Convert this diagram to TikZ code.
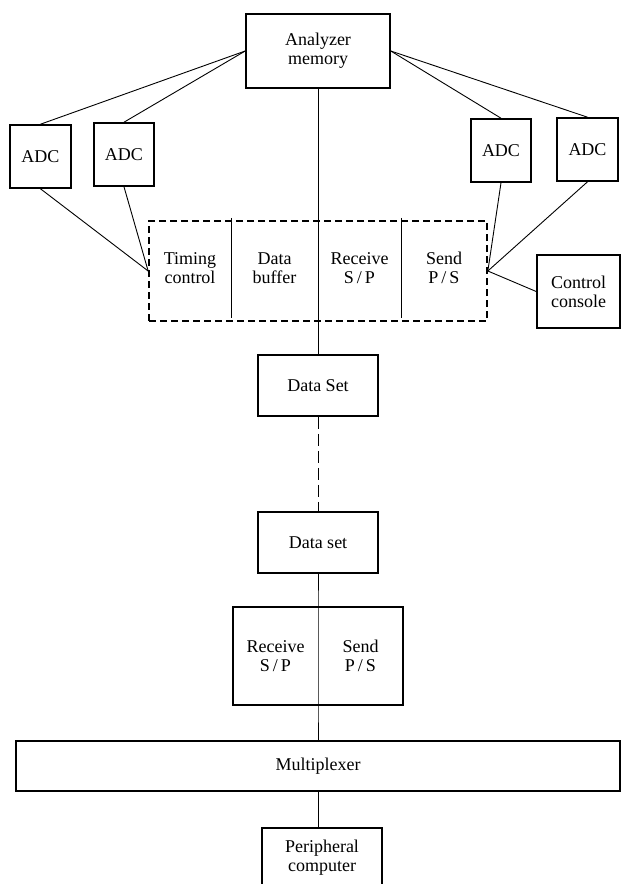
\documentclass[tikz,border=0pt]{standalone}
\usepackage{fontspec}
\setmainfont{Liberation Serif}
\begin{document}
\begin{tikzpicture}[x=1pt,y=-1pt,
    every node/.style={font=\fontsize{18}{19}\selectfont},
    box/.style={draw,line width=1.6pt,align=center,inner sep=0pt},
    cell/.style={align=center,inner sep=0pt,minimum height=100pt},
    wire/.style={line width=0.9pt}]
    \useasboundingbox (0,0) rectangle (621,884);
    \clip (0,0) rectangle (621,884);

    % analyzer side
    \node[box,minimum width=144pt,minimum height=74pt] (mem) at (318,51) {Analyzer\\memory};
    \node[box,minimum width=61pt,minimum height=63pt] (adcA) at (40.5,156.5) {ADC};
    \node[box,minimum width=60pt,minimum height=63pt] (adcB) at (124,154.5) {ADC};
    \node[box,minimum width=60pt,minimum height=63pt] (adcC) at (501,150.5) {ADC};
    \node[box,minimum width=61pt,minimum height=63pt] (adcD) at (587.5,149.5) {ADC};

    \node[draw,line width=1.7pt,dash pattern=on 7pt off 4pt,minimum width=338pt,minimum height=100pt] (iface) at (318,271) {};
    \node[cell,minimum width=82pt] (timing) at (190,268) {Timing\\control};
    \node[cell,minimum width=87pt] (buffer) at (274.5,268) {Data\\buffer};
    \node[cell,minimum width=83pt] (recvA) at (359.5,268) {Receive\\S\,/\,P};
    \node[cell,minimum width=86pt] (sendA) at (444,268) {Send\\P\,/\,S};
    \node[box,minimum width=83pt,minimum height=73pt] (console) at (578.5,291.5) {Control\\console};

    % line to the peripheral computer
    \node[box,minimum width=120pt,minimum height=61pt] (setA) at (318,385.5) {Data Set};
    \node[box,minimum width=120pt,minimum height=61pt] (setB) at (318,542.5) {Data set};
    \node[box,minimum width=170pt,minimum height=98pt] (rs) at (318,656) {};
    \node[cell,minimum width=85pt,minimum height=98pt] (recvB) at (275.5,656) {Receive\\S\,/\,P};
    \node[cell,minimum width=85pt,minimum height=98pt] (sendB) at (360.5,656) {Send\\P\,/\,S};
    \node[box,minimum width=604pt,minimum height=50pt] (mux) at (318,766) {Multiplexer};
    \node[box,minimum width=120pt,minimum height=60pt] (periph) at (322,858) {Peripheral\\computer};

    \draw[wire] (timing.north east) -- (timing.south east);
    \draw[wire] (recvA.north east) -- (recvA.south east);

    \draw[wire] (mem.west) -- (adcA.north);
    \draw[wire] (mem.west) -- (adcB.north);
    \draw[wire] (mem.east) -- (adcC.north);
    \draw[wire] (mem.east) -- (adcD.north);
    \draw[wire] (adcA.south) -- (iface.west);
    \draw[wire] (adcB.south) -- (iface.west);
    \draw[wire] (adcC.south) -- (iface.east);
    \draw[wire] (adcD.south) -- (iface.east);
    \draw[wire] (console.west) -- (iface.east);

    \draw[wire] (mem.south) -- (setA.north);
    \draw[wire,dash pattern=on 12pt off 5pt] (setA.south) -- (setB.north);
    \draw[wire] (setB.south) -- (rs.north) -- (rs.south) -- (mux.north);
    \draw[wire] (mux.south) -- (mux.south |- periph.north);

\end{tikzpicture}
\end{document}
